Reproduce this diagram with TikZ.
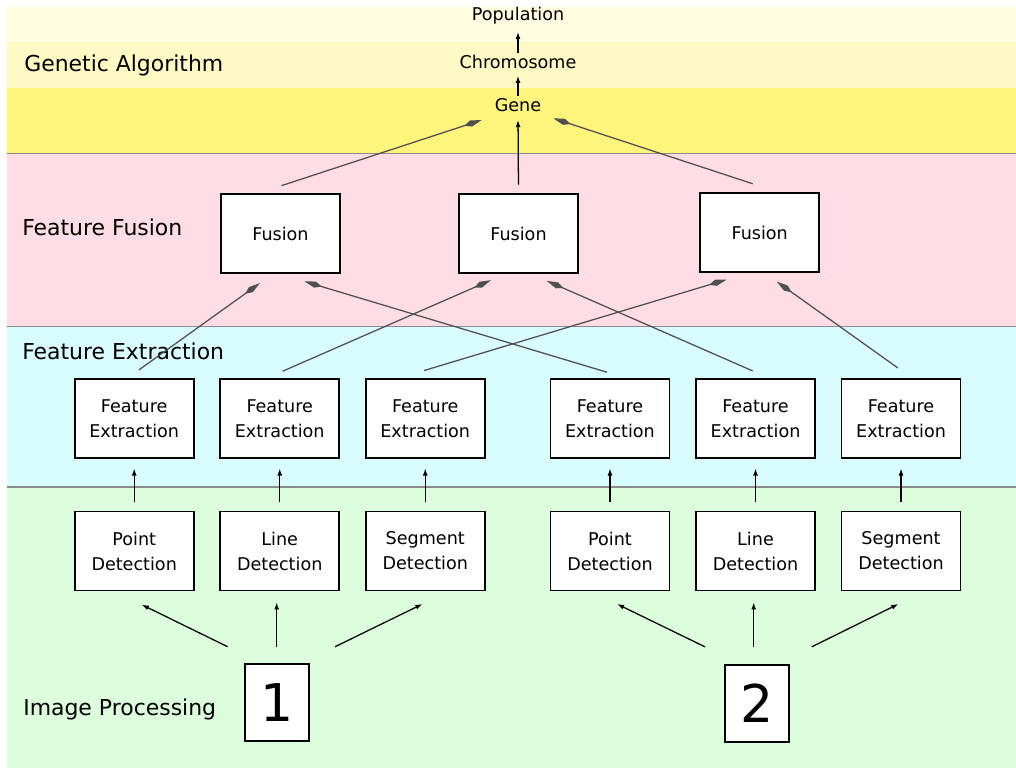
\documentclass[tikz,border=0pt]{standalone}
\usepackage{fontspec}
\setmainfont{DejaVu Sans}
\usetikzlibrary{arrows.meta, positioning, calc}

\definecolor{gatop}{HTML}{FFFEE0}
\definecolor{gamid}{HTML}{FFFAC4}
\definecolor{gabase}{HTML}{FFF47C}
\definecolor{fusionbg}{HTML}{FFDDE5}
\definecolor{extractbg}{HTML}{D9FCFF}
\definecolor{imagebg}{HTML}{DCFEDC}
\definecolor{bandgray}{HTML}{8C8C8C}
\definecolor{linkgray}{HTML}{505050}

\tikzstyle{stage} = [
	rectangle,
	minimum width=2.975cm,
	minimum height=1.975cm,
	text width=2.9cm,
	align=center,
	inner sep=0pt,
	draw=black,
	line width=1.2pt,
	fill=white,
	font=\fontsize{12.5}{17.8}\selectfont
]
\tikzstyle{source} = [
	rectangle,
	minimum width=1.6cm,
	minimum height=1.92cm,
	inner sep=0pt,
	draw=black,
	line width=1.2pt,
	fill=white,
	font=\fontsize{37}{40}\selectfont
]
\tikzstyle{gatext} = [inner sep=0pt, anchor=base, font=\fontsize{12.5}{15}\selectfont]
\tikzstyle{layer} = [inner sep=0pt, anchor=base west, font=\fontsize{15.6}{18}\selectfont]
\tikzstyle{bandline} = [draw=bandgray, line width=1.4pt]
\tikzstyle{arrow} = [line width=0.9pt, draw=linkgray, -{Kite[length=13pt,width=4.5pt,inset=5pt]}]
\tikzstyle{shortarrow} = [line width=0.9pt, draw=black, -{Latex[length=5pt,width=3.5pt]}]

\begin{document}
\begin{tikzpicture}[x=0.025cm, y=-0.025cm, node distance=0.62cm]

	\useasboundingbox (0,0) rectangle (1016,768);
	\fill [white] (0,0) rectangle (1016,768);

	% layer bands
	\fill [gatop] (6.7,6.7) rectangle (1016,42.3);
	\fill [gamid] (6.7,42.3) rectangle (1016,88.3);
	\fill [gabase] (6.7,88.3) rectangle (1016,153.5);
	\fill [fusionbg] (6.7,153.5) rectangle (1016,326.5);
	\fill [extractbg] (6.7,326.5) rectangle (1016,487);
	\fill [imagebg] (6.7,487) rectangle (1016,768);
	\draw [bandline] (6.7,153.5) -- (1016,153.5);
	\draw [bandline] (6.7,326.5) -- (1016,326.5);
	\draw [bandline] (6.7,487) -- (1016,487);

	\node (lga) [layer] at (24,71.7) {Genetic Algorithm};
	\node (lff) [layer] at (22,235.5) {Feature Fusion};
	\node (lfe) [layer] at (22,359.3) {Feature Extraction};
	\node (lip) [layer] at (23,715) {Image Processing};

	% genetic algorithm
	\node (pop) [gatext] at (518,21) {Population};
	\node (chrom) [gatext] at (518,68.3) {Chromosome};
	\node (gene) [gatext] at (518,111.7) {Gene};

	% image processing
	\node (img1) [source] at (277.2,702.3) {1};
	\node (img2) [source] at (757.2,703.4) {2};

	\node (pt1) [stage] at (134.2,551) {Point\\Detection};
	\node (ln1) [stage, right=of pt1] {Line\\Detection};
	\node (sg1) [stage, right=of ln1] {Segment\\Detection};
	\node (pt2) [stage, right=1.6cm of sg1] {Point\\Detection};
	\node (ln2) [stage, right=of pt2] {Line\\Detection};
	\node (sg2) [stage, right=of ln2] {Segment\\Detection};

	% feature extraction
	\node (fe1) [stage, above=1.3cm of pt1] {Feature\\Extraction};
	\node (fe2) [stage, above=1.3cm of ln1] {Feature\\Extraction};
	\node (fe3) [stage, above=1.3cm of sg1] {Feature\\Extraction};
	\node (fe4) [stage, above=1.3cm of pt2] {Feature\\Extraction};
	\node (fe5) [stage, above=1.3cm of ln2] {Feature\\Extraction};
	\node (fe6) [stage, above=1.3cm of sg2] {Feature\\Extraction};

	% feature fusion
	\node (fu1) [stage] at (280.5,233.5) {Fusion};
	\node (fu2) [stage] at (518.5,233.5) {Fusion};
	\node (fu3) [stage] at (759.7,232.5) {Fusion};

	\draw [shortarrow, shorten <=1.5pt, shorten >=5pt] (chrom.north) -- (pop.south);
	\draw [shortarrow, shorten <=2pt, shorten >=5pt] (gene.north) -- (chrom.south);

	\draw [arrow] ($(fu1.north)+(1,-7.5)$) -- ($(gene.base)+(-36.3,8.3)$);
	\draw [shortarrow, shorten <=6pt, shorten >=6pt] (fu2.north) -- (gene.base);
	\draw [arrow] ($(fu3.north)+(-7,-8.4)$) -- ($(gene.base)+(35.3,6.6)$);

	\draw [arrow] ($(fe1.north)+(4.7,-8)$) -- ($(fu1.south)+(-20.5,9.2)$);
	\draw [arrow] ($(fe4.north)+(-3,-5.7)$) -- ($(fu1.south)+(23.8,7.5)$);
	\draw [arrow] ($(fe2.north)+(2.9,-6.7)$) -- ($(fu2.south)+(-27.5,6.3)$);
	\draw [arrow] ($(fe5.north)+(-2.8,-7)$) -- ($(fu2.south)+(28.2,7)$);
	\draw [arrow] ($(fe3.north)+(-1.2,-7.4)$) -- ($(fu3.south)+(-33,6.7)$);
	\draw [arrow] ($(fe6.north)+(-3.2,-10)$) -- ($(fu3.south)+(17,8.7)$);

	\draw [shortarrow, shorten <=6pt, shorten >=7pt] (pt1.north) -- (fe1.south);
	\draw [shortarrow, shorten <=6pt, shorten >=7pt] (ln1.north) -- (fe2.south);
	\draw [shortarrow, shorten <=6pt, shorten >=7pt] (sg1.north) -- (fe3.south);
	\draw [shortarrow, shorten <=6pt, shorten >=7pt] (pt2.north) -- (fe4.south);
	\draw [shortarrow, shorten <=6pt, shorten >=7pt] (ln2.north) -- (fe5.south);
	\draw [shortarrow, shorten <=6pt, shorten >=7pt] (sg2.north) -- (fe6.south);

	\draw [shortarrow] ($(img1.north)+(-49.5,-16.3)$) -- ($(pt1.south)+(7.5,13.3)$);
	\draw [shortarrow] ($(img1.north)+(-0.5,-16.3)$) -- ($(img1.north)+(-0.5,-60.7)$);
	\draw [shortarrow] ($(img1.north)+(57.8,-16.3)$) -- ($(sg1.south)+(-2.8,12.7)$);
	\draw [shortarrow] ($(img2.north)+(-52.2,-17.3)$) -- ($(pt2.south)+(7.1,12.7)$);
	\draw [shortarrow] ($(img2.north)+(-3.5,-17.3)$) -- ($(img2.north)+(-3.5,-61.7)$);
	\draw [shortarrow] ($(img2.north)+(54.5,-17.3)$) -- ($(sg2.south)+(-2.7,12.7)$);

\end{tikzpicture}
\end{document}
